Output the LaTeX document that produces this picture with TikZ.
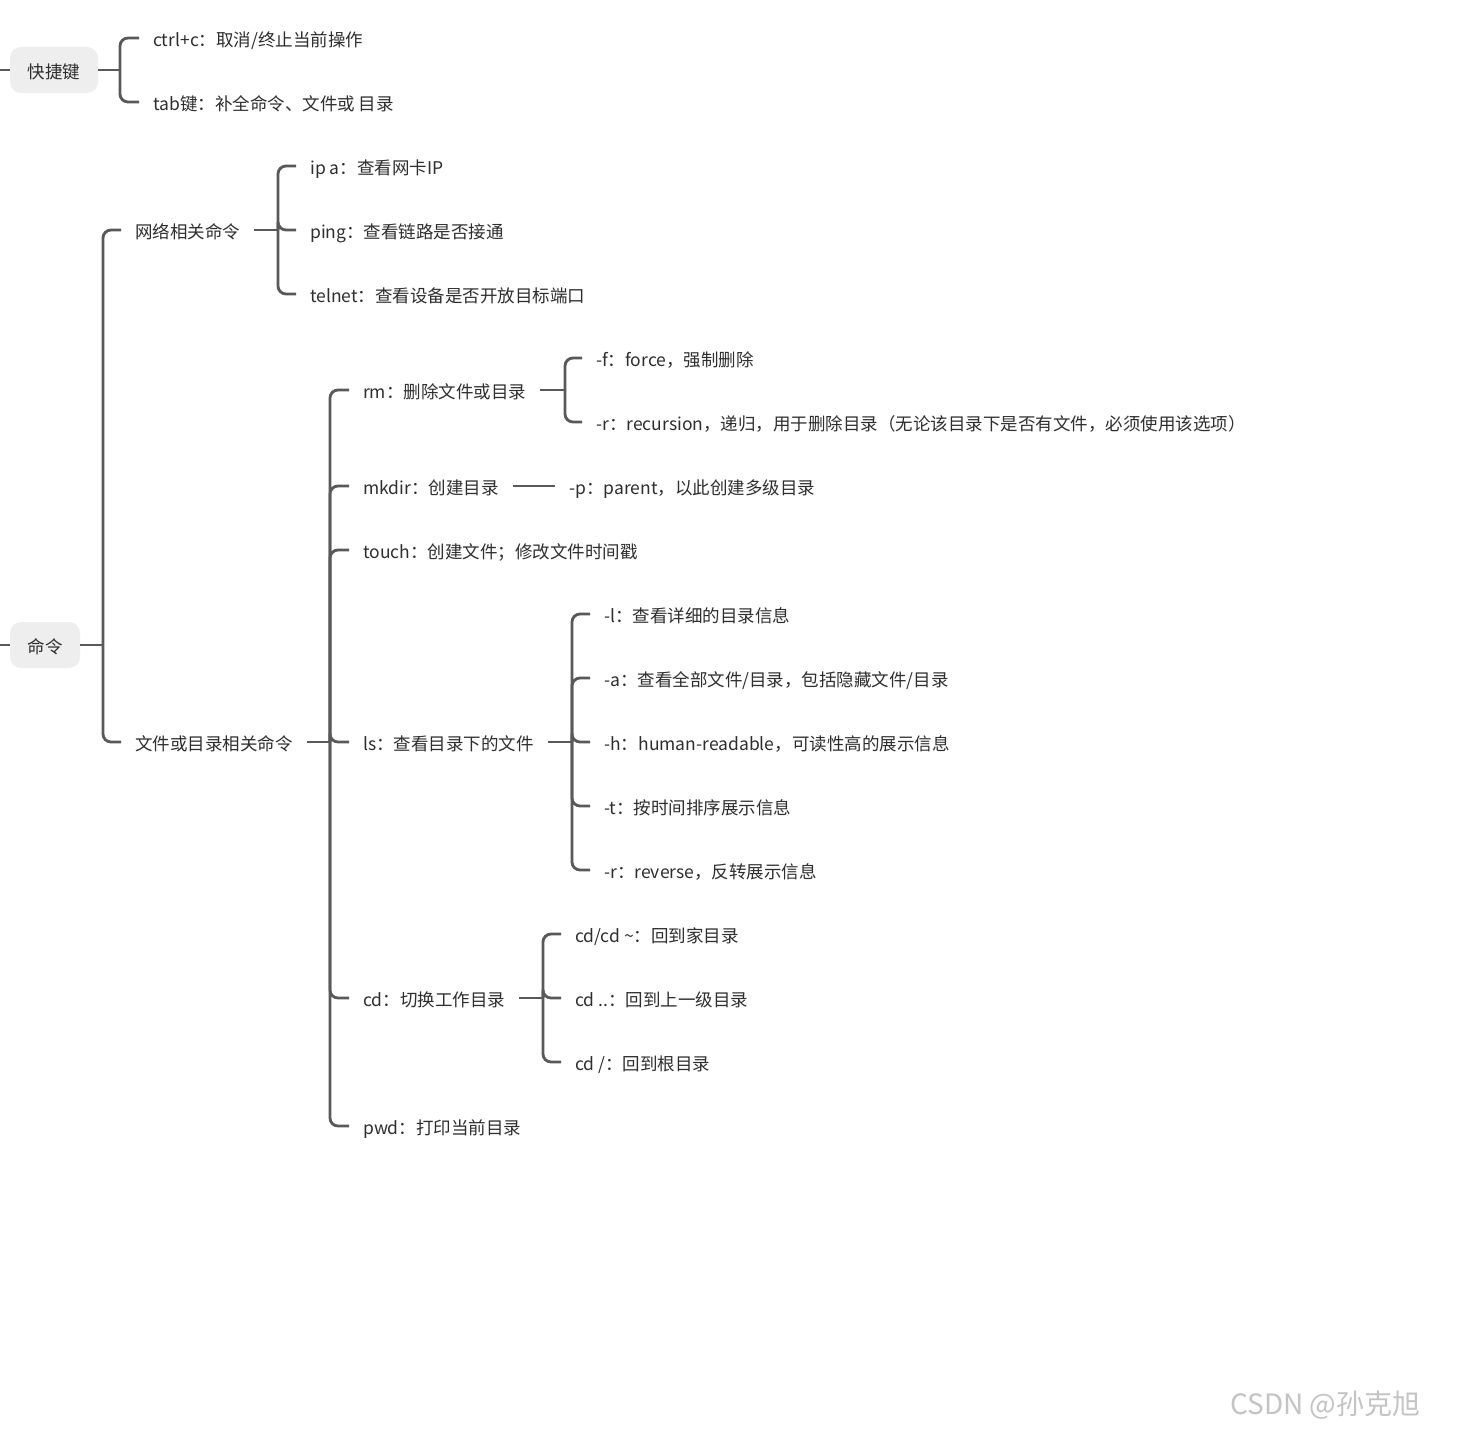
\documentclass[tikz,border=0pt]{standalone}
\usepackage{fontspec}
\setmainfont{Noto Sans CJK SC}
\definecolor{textc}{HTML}{2E2E2E}
\definecolor{linec}{HTML}{595959}
\definecolor{boxc}{HTML}{EEEEEE}
\definecolor{markc}{HTML}{C4C4C4}
\tikzset{
  txt/.style={anchor=west, inner xsep=14pt, inner ysep=2pt, text height=20pt, text depth=2.8pt, text=textc, font=\fontsize{17.5}{21}\selectfont},
  rootbox/.style={fill=boxc, rounded corners=11pt, minimum height=46pt, inner sep=0pt, text height=19pt, text depth=2.8pt, text=textc, font=\fontsize{17.5}{21}\selectfont},
  conn/.style={draw=linec, line width=2.8pt, rounded corners=8pt},
}
\begin{document}
\begin{tikzpicture}[x=1pt,y=-1pt]
\fill[white] (0,0) rectangle (1458,1431);
\useasboundingbox (0,0) rectangle (1458,1431);

% ---- root 1
\node[rootbox, minimum width=88pt] (kjj) at (54,70) {快捷键};
\coordinate (e1) at (0,70);
\coordinate (jk) at (120,70);
\node[txt] (ctrl) at (139,38) {ctrl+c：取消/终止当前操作};
\node[txt] (tab) at (139,102) {tab键：补全命令、文件或 目录};

% ---- root 2
\node[rootbox, minimum width=70pt] (ml) at (45,645) {命令};
\coordinate (e2) at (0,645);
\coordinate (jroot) at (103,645);
\node[txt] (net) at (121,230) {网络相关命令};
\node[txt] (file) at (121,742) {文件或目录相关命令};

\coordinate (jnet) at (278,230);
\node[txt] (ipa) at (296,166) {ip a：查看网卡IP};
\node[txt] (ping) at (296,230) {ping：查看链路是否接通};
\node[txt] (telnet) at (296,294) {telnet：查看设备是否开放目标端口};

\coordinate (jfile) at (330,742);
\node[txt] (rm) at (349,390) {rm：删除文件或目录};
\node[txt] (mkdir) at (349,486) {mkdir：创建目录};
\node[txt] (touch) at (349,550) {touch：创建文件；修改文件时间戳};
\node[txt] (ls) at (349,742) {ls：查看目录下的文件};
\node[txt] (cd) at (349,998) {cd：切换工作目录};
\node[txt] (pwd) at (349,1126) {pwd：打印当前目录};

\coordinate (jrm) at (565,390);
\node[txt] (rmf) at (582,358) {-f：force，强制删除};
\node[txt] (rmr) at (582,422) {-r：recursion，递归，用于删除目录（无论该目录下是否有文件，必须使用该选项）};

\node[txt] (mkp) at (555,486) {-p：parent，以此创建多级目录};

\coordinate (jls) at (572,742);
\node[txt] (lsl) at (590,614) {-l：查看详细的目录信息};
\node[txt] (lsa) at (590,678) {-a：查看全部文件/目录，包括隐藏文件/目录};
\node[txt] (lsh) at (590,742) {-h：human-readable，可读性高的展示信息};
\node[txt] (lst) at (590,806) {-t：按时间排序展示信息};
\node[txt] (lsr) at (590,870) {-r：reverse，反转展示信息};

\coordinate (jcd) at (543,998);
\node[txt] (cdh) at (561,934) {cd/cd \textasciitilde：回到家目录};
\node[txt] (cdu) at (561,998) {cd ..：回到上一级目录};
\node[txt] (cdr) at (561,1062) {cd /：回到根目录};

% ---- connectors
\draw[conn] (e1) -- (kjj.west);
\draw[conn] (kjj.east) -- (jk);
\draw[conn] (jk) |- (ctrl.west);
\draw[conn] (jk) |- (tab.west);

\draw[conn] (e2) -- (ml.west);
\draw[conn] (ml.east) -- (jroot);
\draw[conn] (jroot) |- (net.west);
\draw[conn] (jroot) |- (file.west);

\draw[conn] (net.east) -- (jnet);
\foreach \c in {ipa,ping,telnet} \draw[conn] (jnet) |- (\c.west);

\draw[conn] (file.east) -- (jfile);
\foreach \c in {rm,mkdir,touch,ls,cd,pwd} \draw[conn] (jfile) |- (\c.west);

\draw[conn] (rm.east) -- (jrm);
\foreach \c in {rmf,rmr} \draw[conn] (jrm) |- (\c.west);

\draw[conn] (mkdir.east) -- (mkp.west);

\draw[conn] (ls.east) -- (jls);
\foreach \c in {lsl,lsa,lsh,lst,lsr} \draw[conn] (jls) |- (\c.west);

\draw[conn] (cd.east) -- (jcd);
\foreach \c in {cdh,cdu,cdr} \draw[conn] (jcd) |- (\c.west);

% ---- watermark
\node[text=markc, font=\fontsize{28}{32}\selectfont, anchor=west, inner sep=0pt] (wm) at (1230,1405) {CSDN @孙克旭};
\end{tikzpicture}
\end{document}
